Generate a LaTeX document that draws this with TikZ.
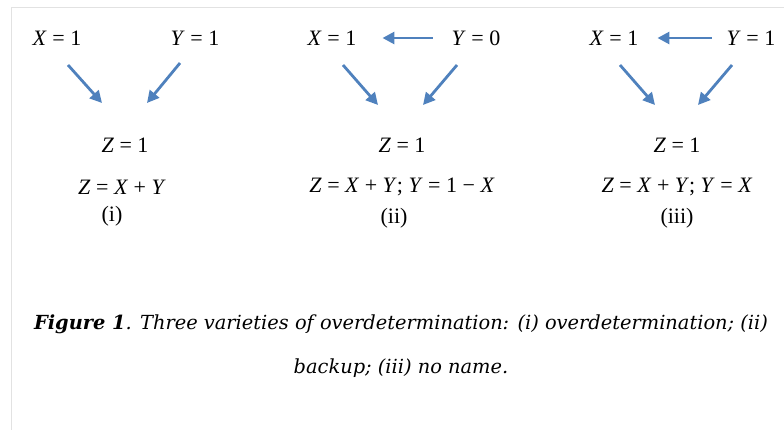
\documentclass[tikz,border=0pt]{standalone}
\usepackage{fontspec}
\setmainfont{Liberation Serif}
\newfontfamily\capfont{DejaVu Serif}
\definecolor{ArrowBlue}{RGB}{79,129,189}
\definecolor{FrameGrey}{RGB}{226,226,226}
\usetikzlibrary{arrows.meta,positioning}

\begin{document}
\begin{tikzpicture}[x=1pt, y=-1pt, every node/.style={align=center, inner sep=0pt, font=\fontsize{22}{26}\selectfont},
  link/.style={-{Triangle[length=12pt,width=12pt]}, line width=2.8pt, ArrowBlue}]
\useasboundingbox (0,0) rectangle (784,430);
\draw[FrameGrey, line width=1pt] (11,430) -- (11,8) -- (784,8);
% (i) overdetermination
\node (xa) at (57,38) {\textit{X} = 1};
\node (ya) at (195,38) {\textit{Y} = 1};
\node (za) at (125,145) {\textit{Z} = 1};
\node (eqa) at (122,187) {\textit{Z} = \textit{X} + \textit{Y}};
\node (laba) at (112,216) {(i)};
\draw[link] ([shift={(11,27)}]xa.center) -- ([shift={(-23,-42)}]za.center);
\draw[link] ([shift={(-15,25)}]ya.center) -- ([shift={(22,-42)}]za.center);
% (ii) backup
\node (xb) at (332,38) {\textit{X} = 1};
\node (yb) at (476,38) {\textit{Y} = 0};
\node (zb) at (402,145) {\textit{Z} = 1};
\node (eqb) at (402,187) {\textit{Z} = \textit{X} + \textit{Y}; \textit{Y} = 1 − \textit{X}};
\node (labb) at (394,218) {(ii)};
\draw[link] ([xshift=-19pt]yb.west) -- ([xshift=26pt]xb.east);
\draw[link] ([shift={(11,27)}]xb.center) -- ([shift={(-24,-40)}]zb.center);
\draw[link] ([shift={(-19,27)}]yb.center) -- ([shift={(21,-40)}]zb.center);
% (iii) no name
\node (xc) at (614,38) {\textit{X} = 1};
\node (yc) at (751,38) {\textit{Y} = 1};
\node (zc) at (677,145) {\textit{Z} = 1};
\node (eqc) at (677,187) {\textit{Z} = \textit{X} + \textit{Y}; \textit{Y} = \textit{X}};
\node (labc) at (677,218) {(iii)};
\draw[link] ([xshift=-15pt]yc.west) -- ([xshift=19pt]xc.east);
\draw[link] ([shift={(6,27)}]xc.center) -- ([shift={(-22,-40)}]zc.center);
\draw[link] ([shift={(-19,27)}]yc.center) -- ([shift={(21,-40)}]zc.center);
% caption
\node[font=\capfont\itshape\fontsize{19.4}{44}\selectfont] (caption) at (401,346)
  {\textbf{Figure 1}. Three varieties of overdetermination: (i) overdetermination; (ii)\\ backup; (iii) no name.};
\end{tikzpicture}
\end{document}
